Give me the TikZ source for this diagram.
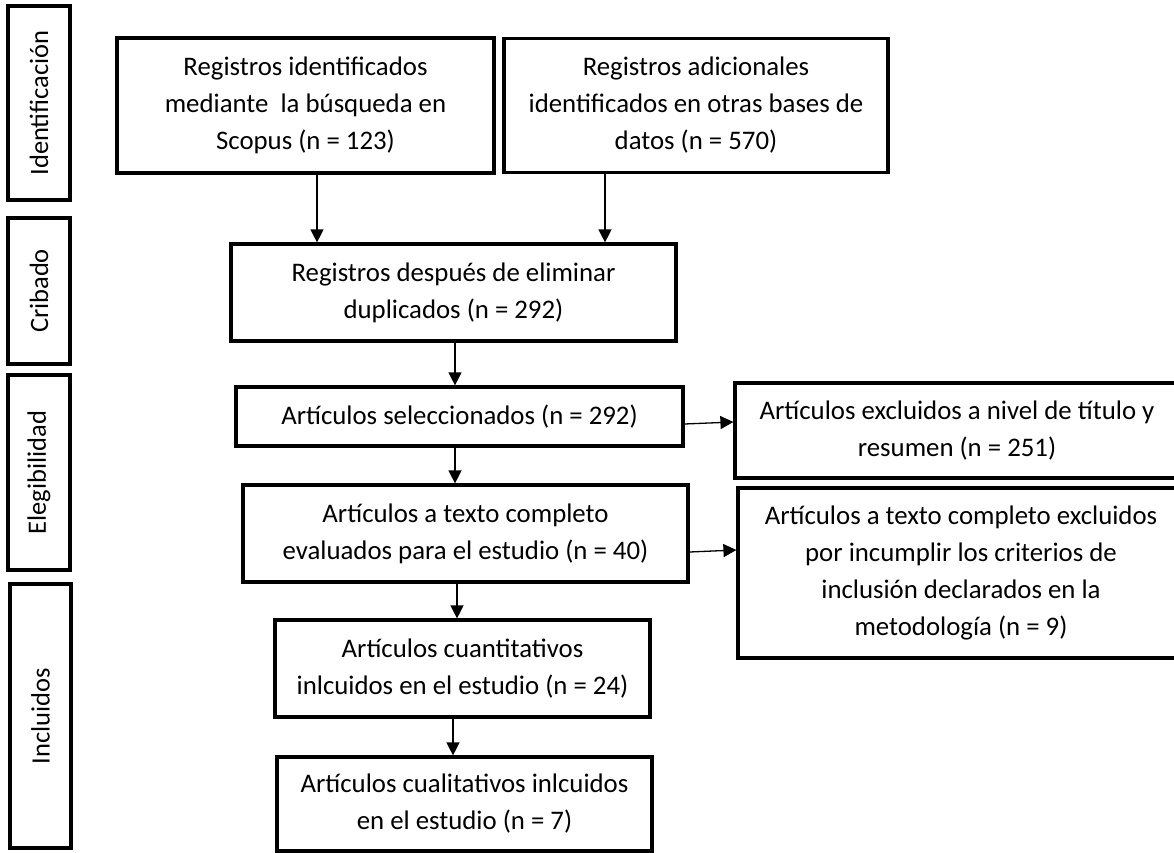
\documentclass[tikz,border=0pt]{standalone}
\usepackage{fontspec}
\setmainfont{Carlito}
\usetikzlibrary{arrows.meta}

\begin{document}
\begin{tikzpicture}[x=1pt,y=-1pt,
  box/.style={rectangle,draw,line width=3.2pt,inner sep=0pt,align=center,font=\fontsize{26.8}{37}\selectfont},
  phase/.style={rectangle,draw,line width=3.2pt,inner sep=0pt,rotate=90,font=\fontsize{26.5}{30}\selectfont},
  arr/.style={-{Triangle[length=13pt,width=13pt]},line width=1.3pt}
]
  \useasboundingbox (0,0) rectangle (1174,853);
  % fases
  \node[phase,minimum width=194pt,minimum height=62pt] (ident) at (39,103) {Identificación};
  \node[phase,minimum width=146pt,minimum height=62pt] (crib) at (39,291) {Cribado};
  \node[phase,minimum width=195pt,minimum height=62pt] (eleg) at (39,472.5) {Elegibilidad};
  \node[phase,minimum width=264pt,minimum height=61pt] (incl) at (40.5,716) {Incluidos};
  % cajas
  \node[box,minimum width=377pt,minimum height=135pt] (scopus) at (305.5,105.5) {Registros identificados\\mediante\ \ la búsqueda en\\Scopus (n = 123)};
  \node[box,minimum width=384pt,minimum height=134pt] (otras) at (696,105.5) {Registros adicionales\\identificados en otras bases de\\datos (n = 570)};
  \node[box,minimum width=445pt,minimum height=97pt] (dupl) at (453.5,292.5) {Registros después de eliminar\\duplicados (n = 292)};
  \node[box,minimum width=447pt,minimum height=59pt] (selec) at (459.5,416.5) {Artículos seleccionados (n = 292)};
  \node[box,minimum width=445pt,minimum height=97pt] (texto) at (465.5,533.5) {Artículos a texto completo\\evaluados para el estudio (n = 40)};
  \node[box,minimum width=375pt,minimum height=97pt] (cuanti) at (462.5,668.5) {Artículos cuantitativos\\inlcuidos en el estudio (n = 24)};
  \node[box,minimum width=375pt,minimum height=94pt] (cuali) at (464.5,804) {Artículos cualitativos inlcuidos\\en el estudio (n = 7)};
  \node[box,minimum width=444pt,minimum height=95pt] (exclres) at (957,430.5) {Artículos excluidos a nivel de título y\\resumen (n = 251)};
  \node[box,minimum width=446pt,minimum height=170pt] (excltex) at (961,573) {Artículos a texto completo excluidos\\por incumplir los criterios de\\inclusión declarados en la\\metodología (n = 9)};
  % flechas
  \draw[arr] ([xshift=11.5pt]scopus.south) -- ([xshift=11.5pt]scopus.south |- dupl.north);
  \draw[arr] ([xshift=-91pt]otras.south) -- ([xshift=-91pt]otras.south |- dupl.north);
  \draw[arr] ([xshift=1.5pt]dupl.south) -- ([xshift=1.5pt]dupl.south |- selec.north);
  \draw[arr] ([xshift=-4.5pt]selec.south) -- ([xshift=-4.5pt]selec.south |- texto.north);
  \draw[arr] ([xshift=-8.5pt]texto.south) -- ([xshift=-8.5pt]texto.south |- cuanti.north);
  \draw[arr] ([xshift=-9.5pt]cuanti.south) -- ([xshift=-9.5pt]cuanti.south |- cuali.north);
  \draw[arr] ([yshift=-7.5pt]selec.east) -- ([yshift=8.5pt]exclres.west);
  \draw[arr] ([yshift=-18.5pt]texto.east) -- ([yshift=23pt]excltex.west);
\end{tikzpicture}
\end{document}
